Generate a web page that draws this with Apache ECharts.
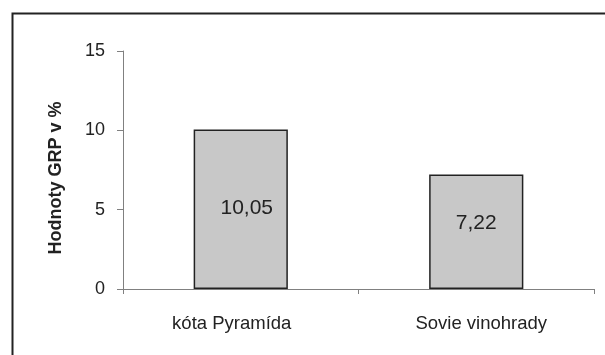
<!DOCTYPE html>
<html>
<head>
<meta charset="utf-8">
<script src="https://cdn.jsdelivr.net/npm/echarts@6/dist/echarts.min.js"></script>
<style>html,body{margin:0;padding:0;background:#fff}#c{width:605px;height:355px}</style>
</head>
<body>
<div id="c"></div>
<script>
var categories = ['kóta Pyramída', 'Sovie vinohrady'];
var values = [10.05, 7.22];
var valueLabels = ['10,05', '7,22'];
var yTicks = [0, 5, 10, 15];
var axisName = 'Hodnoty GRP v %';

var labelOffsets = [[6, -1], [0, -9]];
var catPadding = [[0, 18, 0, 0], [0, 0, 0, 10]];
var chart = echarts.init(document.getElementById('c'), null, {renderer: 'canvas'});
var font = 'Liberation Sans, Arial, sans-serif';
chart.setOption({
  animation: false,
  backgroundColor: '#fff',
  graphic: [{
    type: 'rect', left: 10, top: 11,
    shape: {x: 0, y: 0, width: 700, height: 500},
    style: {fill: 'none', stroke: '#222', lineWidth: 2}
  }],
  grid: {left: 123, right: 11, top: 51, bottom: 66},
  xAxis: {
    type: 'category',
    data: categories.map(function (c, i) {
      return {value: c, textStyle: {padding: catPadding[i]}};
    }),
    axisLine: {lineStyle: {color: '#808080', width: 1}},
    axisTick: {show: true, length: 5, lineStyle: {color: '#808080'}},
    axisLabel: {color: '#222', fontFamily: font, fontSize: 18.5, margin: 25}
  },
  yAxis: {
    type: 'value',
    min: yTicks[0], max: yTicks[yTicks.length - 1], interval: yTicks[1] - yTicks[0],
    name: axisName,
    nameLocation: 'middle',
    nameGap: 58,
    nameTextStyle: {color: '#222', fontFamily: font, fontSize: 18, fontWeight: 'bold', padding: [0, 16, 0, 0]},
    axisLine: {show: true, lineStyle: {color: '#808080', width: 1}},
    axisTick: {show: true, length: 6, lineStyle: {color: '#808080'}},
    splitLine: {show: false},
    axisLabel: {color: '#222', fontFamily: font, fontSize: 18, margin: 18}
  },
  series: [{
    type: 'bar',
    barWidth: '40%',
    data: values.map(function (v, i) {
      return {
        value: v,
        label: {formatter: valueLabels[i], offset: labelOffsets[i]}
      };
    }),
    itemStyle: {color: '#c8c8c8', borderColor: '#222', borderWidth: 1.5},
    label: {show: true, position: 'inside', color: '#222', fontFamily: font, fontSize: 21}
  }]
});
</script>
</body>
</html>
